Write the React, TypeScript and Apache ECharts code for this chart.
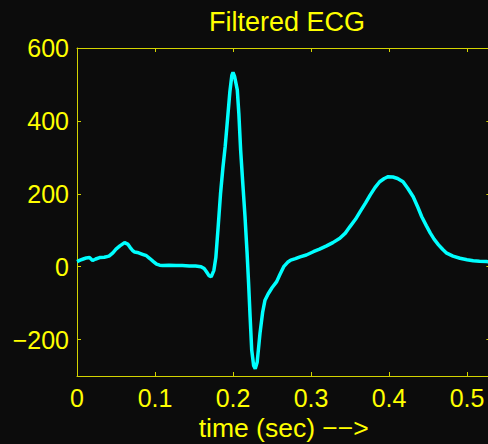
import React, { useEffect, useRef } from "react";
import * as echarts from "echarts";

// Sample times (s) and filtered ECG amplitude
const timeSec: number[] = [
  0, 0.004, 0.008, 0.012, 0.016, 0.02, 0.024, 0.029, 0.035, 0.041, 0.046, 0.05, 0.055, 0.061,
  0.065, 0.068, 0.071, 0.074, 0.079, 0.084, 0.089, 0.093, 0.098, 0.102, 0.106, 0.11, 0.118,
  0.127, 0.135, 0.144, 0.152, 0.159, 0.163, 0.166, 0.169, 0.172, 0.1755, 0.178, 0.181, 0.184,
  0.187, 0.19, 0.193, 0.196, 0.1985, 0.2, 0.202, 0.2055, 0.2075, 0.2098, 0.2125, 0.2154,
  0.218, 0.22, 0.222, 0.224, 0.2265, 0.2285, 0.231, 0.2346, 0.238, 0.241, 0.245, 0.25, 0.256,
  0.26, 0.265, 0.27, 0.274, 0.28, 0.286, 0.294, 0.303, 0.311, 0.32, 0.328, 0.337, 0.344,
  0.35, 0.357, 0.363, 0.37, 0.376, 0.382, 0.388, 0.394, 0.399, 0.405, 0.411, 0.418, 0.424,
  0.431, 0.437, 0.442, 0.448, 0.453, 0.458, 0.4635, 0.469, 0.474, 0.482, 0.491, 0.5, 0.508,
  0.516, 0.525, 0.53,
];
const ecgValues: number[] = [
  14, 18, 21, 24, 25, 17, 21, 25, 26, 29, 38, 48, 57, 66, 62, 53, 45, 40, 38, 34, 30, 23, 14,
  7, 4, 3, 4, 3, 3, 2, 2, 0, -5, -14, -24, -28, -10, 25, 110, 200, 270, 330, 405, 480, 525,
  533, 522, 485, 420, 320, 230, 137, 40, -46, -140, -229, -272, -280, -262, -183, -125, -92,
  -75, -58, -41, -22, 0, 12, 18, 22, 27, 32, 41, 48, 57, 66, 78, 92, 110, 130, 151, 175, 197,
  217, 233, 242, 247, 246, 242, 233, 215, 192, 163, 137, 112, 92, 75, 60, 47, 37, 29, 23, 19,
  16, 15, 14, 13,
];

const xTicks: number[] = [0, 0.1, 0.2, 0.3, 0.4, 0.5];
const yTicks: number[] = [-200, 0, 200, 400, 600];

const titleText = "Filtered ECG";
const xLabelText = "time (sec) \u2212\u2212>";

const YELLOW = "#ffff00";
const AXIS_YELLOW = "#d4d400";
const FONT = "'Liberation Sans', Arial, Helvetica, sans-serif";

export default function App() {
  const ref = useRef<HTMLDivElement>(null);

  useEffect(() => {
    if (!ref.current) return;
    const chart = echarts.init(ref.current, undefined, { renderer: "svg" });

    const fmtX = (v: number) => (v === 0 ? "0" : v.toFixed(1));
    const fmtY = (v: number) => (v < 0 ? "\u2212" + Math.abs(v) : String(v));

    const axisLine = { show: true, onZero: false, lineStyle: { color: AXIS_YELLOW, width: 1 } };
    const tickStyle = { show: true, inside: true, length: 4, lineStyle: { color: AXIS_YELLOW, width: 1 } };

    chart.setOption({
      animation: false,
      backgroundColor: "#0c0c0c",
      title: {
        text: titleText,
        left: 282,
        top: 3,
        textAlign: "center",
        textStyle: { color: YELLOW, fontFamily: FONT, fontSize: 27, fontWeight: "normal" },
      },
      grid: {
        left: 77,
        top: 48,
        right: -2.4,
        bottom: 68,
        containLabel: false,
        outerBoundsMode: "none",
      },
      xAxis: [
        {
          type: "value",
          position: "bottom",
          min: 0,
          max: 0.53,
          axisLine,
          axisTick: { ...tickStyle, customValues: xTicks },
          axisLabel: {
            customValues: xTicks,
            formatter: fmtX,
            color: YELLOW,
            fontFamily: FONT,
            fontSize: 25,
            margin: 9,
          },
          splitLine: { show: false },
          name: xLabelText,
          nameLocation: "middle",
          nameGap: 37,
          nameTextStyle: { color: YELLOW, fontFamily: FONT, fontSize: 26.5 },
        },
        {
          type: "value",
          position: "top",
          min: 0,
          max: 0.53,
          axisLine,
          axisTick: { ...tickStyle, customValues: xTicks },
          axisLabel: { show: false },
          splitLine: { show: false },
        },
      ],
      yAxis: [
        {
          type: "value",
          position: "left",
          min: -300,
          max: 600,
          axisLine,
          axisTick: { ...tickStyle, customValues: yTicks },
          axisLabel: {
            customValues: yTicks,
            formatter: fmtY,
            color: YELLOW,
            fontFamily: FONT,
            fontSize: 25,
            margin: 8,
          },
          splitLine: { show: false },
        },
        {
          type: "value",
          position: "right",
          min: -300,
          max: 600,
          axisLine,
          axisTick: { ...tickStyle, customValues: yTicks },
          axisLabel: { show: false },
          splitLine: { show: false },
        },
      ],
      series: [
        {
          type: "line",
          xAxisIndex: 0,
          yAxisIndex: 0,
          data: timeSec.map((t, i) => [t, ecgValues[i]]),
          showSymbol: false,
          lineStyle: { color: "#00ffff", width: 3.5 },
          clip: true,
        },
      ],
    });

    return () => chart.dispose();
  }, []);

  return (
    <div
      ref={ref}
      style={{ position: "fixed", left: 0, top: 0, width: 488, height: 444 }}
    />
  );
}
